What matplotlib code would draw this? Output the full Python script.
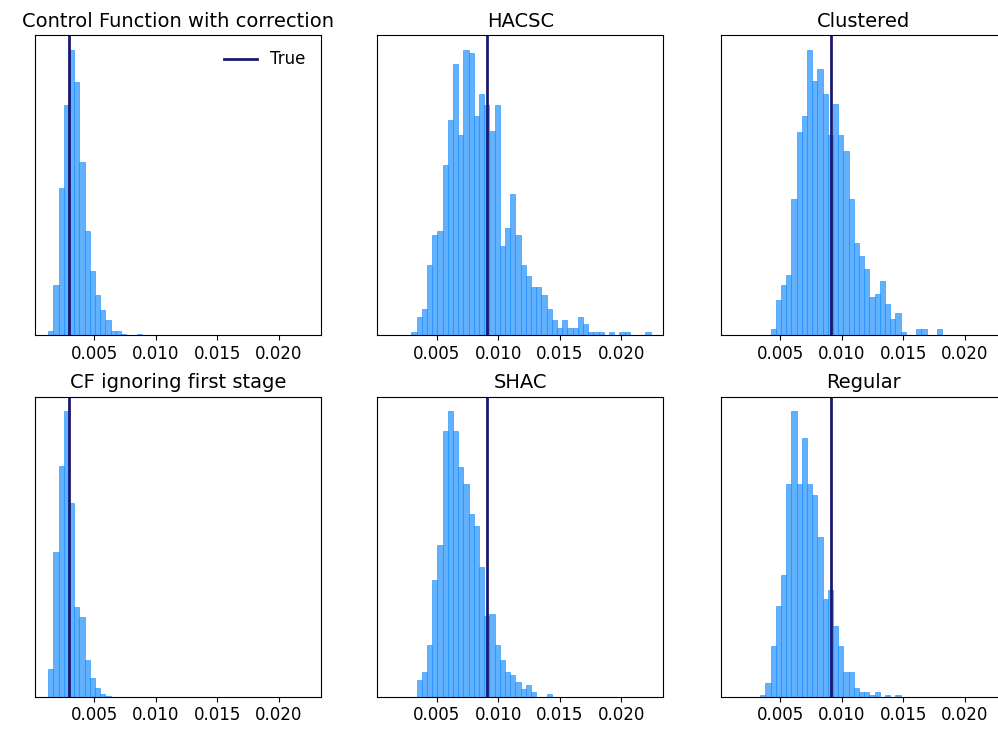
import numpy as np
import matplotlib.pyplot as plt

# shared histogram bins (50 bins over the pooled range of all estimates)
bin_lo, bin_hi, n_bins = 0.00127, 0.02237, 50
true_cf = 0.00295
true_iv = 0.0091

titles = ["Control Function with correction", "HACSC", "Clustered",
          "CF ignoring first stage", "SHAC", "Regular"]
true_vals = [true_cf, true_iv, true_iv, true_cf, true_iv, true_iv]

# (index of first non-empty bin, counts)
counts_cf = (0, [3, 36, 105, 164, 203, 180, 123, 74, 46, 29, 18, 11, 3, 3, 1, 0, 0, 1])
counts_hacsc = (4, [1, 5, 7, 19, 27, 28, 46, 58, 73, 54, 77, 76, 59, 65, 62, 55, 62, 24,
                    29, 38, 27, 19, 16, 13, 13, 11, 7, 4, 2, 4, 2, 2, 5, 3, 1, 1, 1, 0,
                    1, 0, 1, 1, 0, 0, 0, 1])
counts_clustered = (7, [2, 11, 16, 19, 43, 64, 69, 90, 80, 84, 76, 63, 73, 63, 58, 43, 29,
                        25, 21, 12, 13, 17, 10, 5, 7, 1, 0, 0, 2, 2, 0, 0, 2])
counts_cf_naive = (0, [25, 129, 206, 255, 173, 80, 71, 33, 17, 8, 2, 1])
counts_shac = (5, [7, 10, 21, 48, 62, 109, 117, 109, 94, 87, 75, 70, 53, 33, 34, 21, 15,
                   10, 9, 6, 3, 5, 2, 0, 0, 1])
counts_regular = (5, [1, 6, 23, 41, 55, 96, 129, 96, 117, 96, 91, 72, 44, 48, 32, 23, 11,
                      11, 4, 2, 2, 1, 2, 0, 1, 0, 1])

all_counts = [counts_cf, counts_hacsc, counts_clustered,
              counts_cf_naive, counts_shac, counts_regular]

edges = np.linspace(bin_lo, bin_hi, n_bins + 1)
centers = (edges[:-1] + edges[1:]) / 2

fig = plt.figure(figsize=(9.98, 7.32), dpi=100)
lefts = [0.0348, 0.378, 0.7222]
bottoms = [0.5419, 0.0482]
w, h = 0.2866, 0.4098

for i, (title, tv, (start, cnt)) in enumerate(zip(titles, true_vals, all_counts)):
    r, c = divmod(i, 3)
    ax = fig.add_axes([lefts[c], bottoms[r], w, h])
    weights = np.zeros(n_bins)
    weights[start:start + len(cnt)] = cnt
    ax.hist(centers, bins=edges, weights=weights, color="dodgerblue",
            alpha=0.7, edgecolor="dodgerblue", linewidth=0.6)
    ax.axvline(tv, color="midnightblue", linewidth=2, label="True")
    ax.set_xlim(0.00018, 0.0234)
    ax.set_xticks([0.005, 0.010, 0.015, 0.020])
    ax.set_xticklabels(["0.005", "0.010", "0.015", "0.020"])
    ax.tick_params(axis="x", labelsize=12)
    ax.set_yticks([])
    ax.set_title(title, fontsize=14)
    if i == 0:
        ax.legend(frameon=False, fontsize=12, loc="upper right")

fig.savefig("out.png", dpi=100)
